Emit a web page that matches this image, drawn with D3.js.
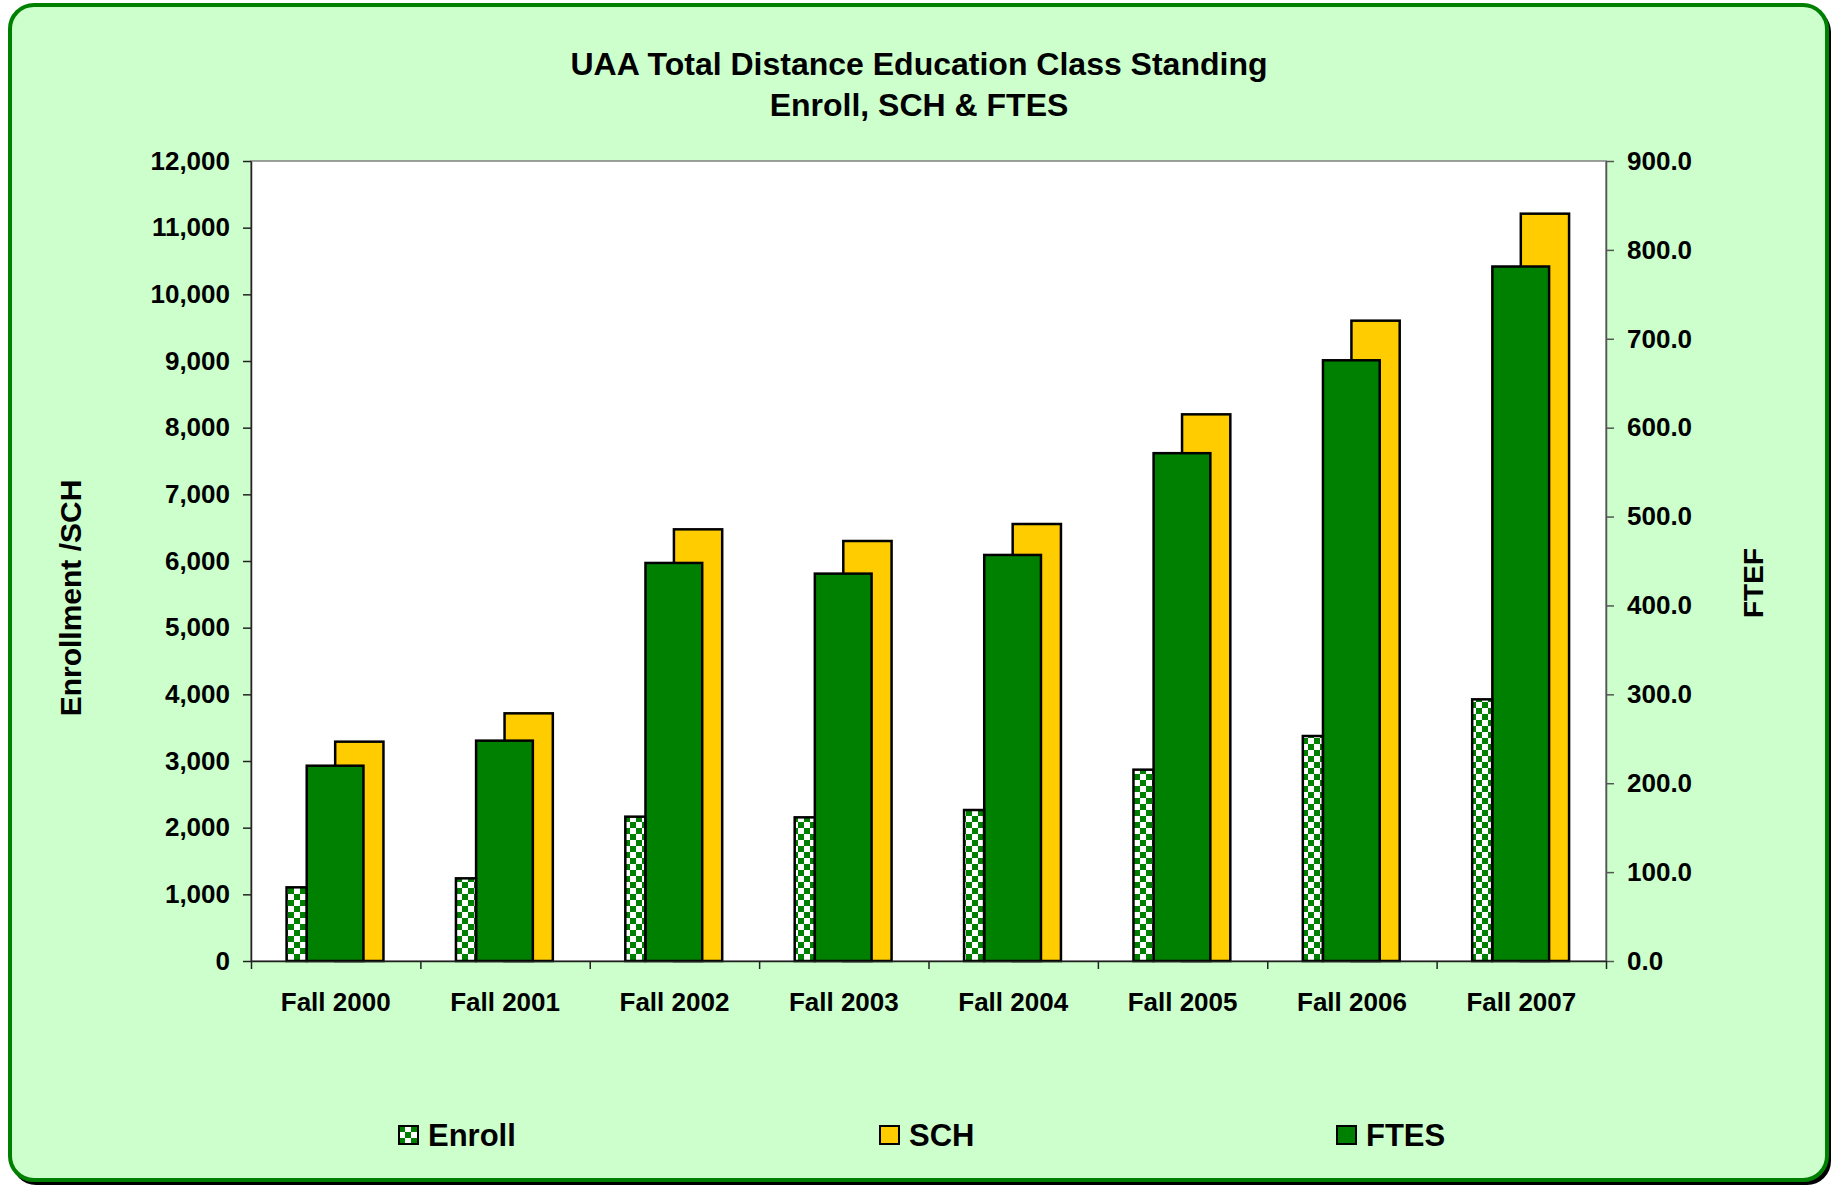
<!DOCTYPE html>
<html>
<head>
<meta charset="utf-8">
<script src="https://cdn.jsdelivr.net/npm/d3@7"></script>
<style>
  body { margin: 0; background: #fff; }
  text { font-family: "Liberation Sans", Arial, sans-serif; font-weight: bold; fill: #000; }
</style>
</head>
<body>
<div id="container"></div>
<script>
var categories = ['Fall 2000', 'Fall 2001', 'Fall 2002', 'Fall 2003', 'Fall 2004', 'Fall 2005', 'Fall 2006', 'Fall 2007'];
var enroll = [1105, 1240, 2165, 2155, 2265, 2870, 3375, 3925];
var sch = [3290, 3715, 6475, 6300, 6555, 8200, 9605, 11210];
var ftes = [219.7, 247.9, 447.8, 435.8, 456.8, 571.3, 675.8, 781.3];
var leftTicks = [0, 1000, 2000, 3000, 4000, 5000, 6000, 7000, 8000, 9000, 10000, 11000, 12000];
var rightTicks = [0, 100, 200, 300, 400, 500, 600, 700, 800, 900];

var svgWidth = 1839,
    svgHeight = 1186,
    svg = d3.select('#container').append('svg').attr('width', svgWidth).attr('height', svgHeight),
    plot = { left: 251, right: 1606, top: 161, bottom: 961 };

var green = '#008000', yellow = '#FFCC00', bg = '#CCFFCC';

// checker pattern for Enroll
var defs = svg.append('defs');
var pat = defs.append('pattern').attr('id', 'checker')
    .attr('patternUnits', 'userSpaceOnUse').attr('width', 12).attr('height', 12);
pat.append('rect').attr('width', 12).attr('height', 12).attr('fill', '#fff');
pat.append('rect').attr('width', 6).attr('height', 6).attr('fill', green);
pat.append('rect').attr('x', 6).attr('y', 6).attr('width', 6).attr('height', 6).attr('fill', green);

// frame with shadow
svg.append('rect').attr('x', 12).attr('y', 8).attr('width', 1819).attr('height', 1177)
    .attr('rx', 24).attr('fill', '#000');
svg.append('rect').attr('x', 10).attr('y', 5).attr('width', 1817).attr('height', 1175)
    .attr('rx', 24).attr('fill', bg).attr('stroke', green).attr('stroke-width', 4);

// title
svg.append('text').attr('x', 919).attr('y', 75).attr('text-anchor', 'middle')
    .style('font-size', '32px').text('UAA Total Distance Education Class Standing');
svg.append('text').attr('x', 919).attr('y', 116).attr('text-anchor', 'middle')
    .style('font-size', '32px').text('Enroll, SCH & FTES');

// plot area
svg.append('rect').attr('x', plot.left).attr('y', plot.top)
    .attr('width', plot.right - plot.left).attr('height', plot.bottom - plot.top)
    .attr('fill', '#fff').attr('stroke', '#808080').attr('stroke-width', 1.5);

var x = d3.scaleBand().domain(categories).range([plot.left, plot.right]).padding(0);
var y = d3.scaleLinear().domain([0, 12000]).range([plot.bottom, plot.top]);
var y2 = d3.scaleLinear().domain([0, 900]).range([plot.bottom, plot.top]);
var bw = x.bandwidth();

// bars: SCH behind, FTES middle, Enroll front
svg.append('g').selectAll('rect').data(sch).enter().append('rect')
    .attr('x', function(d, i) { return x(categories[i]) + bw * 0.497; })
    .attr('width', bw * 0.285)
    .attr('y', function(d) { return y(d); })
    .attr('height', function(d) { return y(0) - y(d); })
    .attr('fill', yellow).attr('stroke', '#000').attr('stroke-width', 2.5);

svg.append('g').selectAll('rect').data(ftes).enter().append('rect')
    .attr('x', function(d, i) { return x(categories[i]) + bw * 0.329; })
    .attr('width', bw * 0.335)
    .attr('y', function(d) { return y2(d); })
    .attr('height', function(d) { return y2(0) - y2(d); })
    .attr('fill', green).attr('stroke', '#000').attr('stroke-width', 2.5);

svg.append('g').selectAll('rect').data(enroll).enter().append('rect')
    .attr('x', function(d, i) { return x(categories[i]) + bw * 0.21; })
    .attr('width', bw * 0.118)
    .attr('y', function(d) { return y(d); })
    .attr('height', function(d) { return y(0) - y(d); })
    .attr('fill', 'url(#checker)').attr('stroke', '#000').attr('stroke-width', 2.5);

// axes
var gl = svg.append('g').attr('transform', 'translate(' + plot.left + ',0)')
    .call(d3.axisLeft(y).tickValues(leftTicks).tickFormat(d3.format(',')).tickSize(8).tickSizeOuter(0).tickPadding(13));
var gr = svg.append('g').attr('transform', 'translate(' + plot.right + ',0)')
    .call(d3.axisRight(y2).tickValues(rightTicks).tickFormat(d3.format('.1f')).tickSize(8).tickSizeOuter(0).tickPadding(13));

var xb = d3.scaleLinear().domain([0, categories.length]).range([plot.left, plot.right]);
var gbt = svg.append('g').attr('transform', 'translate(0,' + plot.bottom + ')')
    .call(d3.axisBottom(xb).tickValues(d3.range(0, categories.length + 1)).tickFormat('').tickSize(8).tickSizeOuter(0));
var gbl = svg.append('g').attr('transform', 'translate(0,' + plot.bottom + ')')
    .call(d3.axisBottom(x).tickSize(0).tickPadding(32));
gbl.select('.domain').remove();

[gl, gr, gbt].forEach(function(g) {
  g.selectAll('.domain').attr('stroke', '#222').attr('stroke-width', 1.5);
  g.selectAll('.tick line').attr('stroke', '#222').attr('stroke-width', 1.5);
});
gr.selectAll('.domain, .tick line').attr('stroke', '#555');
[gl, gr, gbl].forEach(function(g) {
  g.selectAll('.tick text').style('font-size', '26px').style('font-family', '"Liberation Sans", Arial, sans-serif')
      .style('font-weight', 'bold').attr('fill', '#000');
});
gbl.selectAll('.tick text').attr('dy', '0.71em');

// axis titles
svg.append('text').attr('transform', 'translate(81,598) rotate(-90)')
    .attr('text-anchor', 'middle').style('font-size', '30px').text('Enrollment /SCH');
svg.append('text').attr('transform', 'translate(1763,583) rotate(-90)')
    .attr('text-anchor', 'middle').style('font-size', '28px').text('FTEF');

// legend
var legend = [
  { name: 'Enroll', fill: 'url(#checker)', x: 399 },
  { name: 'SCH', fill: yellow, x: 880 },
  { name: 'FTES', fill: green, x: 1337 }
];
var lg = svg.append('g').selectAll('g').data(legend).enter().append('g')
    .attr('transform', function(d) { return 'translate(' + d.x + ',1126)'; });
lg.append('rect').attr('width', 19).attr('height', 18)
    .attr('fill', function(d) { return d.fill; }).attr('stroke', '#000').attr('stroke-width', 2);
lg.append('text').attr('x', 29).attr('y', 20).style('font-size', '31px')
    .text(function(d) { return d.name; });
</script>
</body>
</html>
